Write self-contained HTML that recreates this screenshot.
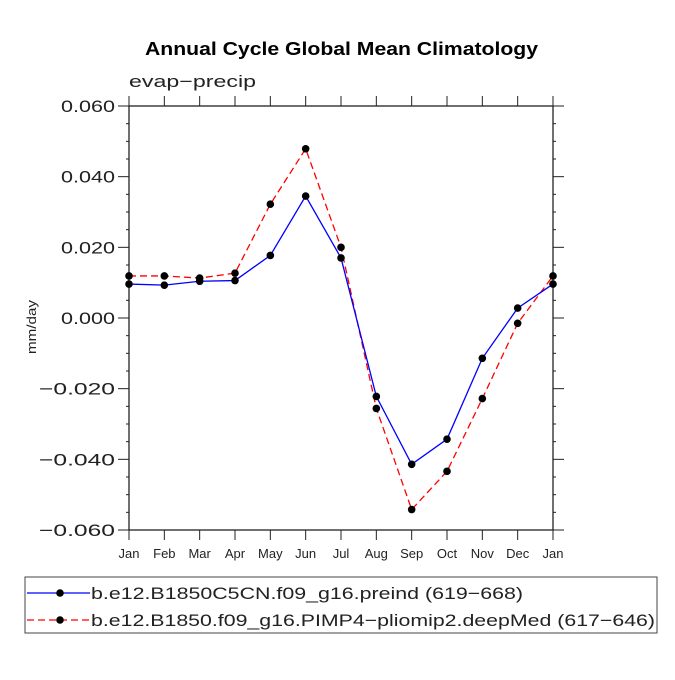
<!DOCTYPE html>
<html><head><meta charset="utf-8"><style>
body{margin:0;background:#fff;}
svg text{font-family:"Liberation Sans",sans-serif;}
</style></head><body>
<svg id="chart" width="675" height="675" xmlns="http://www.w3.org/2000/svg">
<text x="145" y="55" textLength="393" lengthAdjust="spacingAndGlyphs" font-size="18" font-weight="bold">Annual Cycle Global Mean Climatology</text>
<text x="129" y="87" textLength="127" lengthAdjust="spacingAndGlyphs" font-size="17" fill="#222">evap−precip</text>
<text transform="translate(36,327) rotate(-90)" text-anchor="middle" textLength="54" lengthAdjust="spacingAndGlyphs" font-size="13" fill="#222">mm/day</text>
<g id="axes"></g>
<g id="series"></g>
<rect x="25" y="577" width="632" height="56" fill="none" stroke="#444" stroke-width="1"/>
<g>
<line x1="27" y1="593" x2="90" y2="593" stroke="#00f" stroke-width="1.3"/>
<circle cx="60" cy="593" r="3.8" fill="#000"/>
<text x="91" y="599" textLength="432" lengthAdjust="spacingAndGlyphs" font-size="17" fill="#222">b.e12.B1850C5CN.f09_g16.preind (619−668)</text>
</g>
<g>
<line x1="27" y1="620" x2="90" y2="620" stroke="#f00" stroke-width="1.3" stroke-dasharray="7,4"/>
<circle cx="60" cy="620" r="3.8" fill="#000"/>
<text x="91" y="626" textLength="564" lengthAdjust="spacingAndGlyphs" font-size="17" fill="#222">b.e12.B1850.f09_g16.PIMP4−pliomip2.deepMed (617−646)</text>
</g>
</svg>
<script>
const months = ["Jan","Feb","Mar","Apr","May","Jun","Jul","Aug","Sep","Oct","Nov","Dec","Jan"];
const preind = [0.0096,0.0093,0.0104,0.0106,0.0177,0.0345,0.0170,-0.0222,-0.0414,-0.0343,-0.0114,0.0028,0.0096];
const pliomip = [0.0119,0.0119,0.0113,0.0127,0.0322,0.0479,0.0200,-0.0256,-0.0542,-0.0434,-0.0228,-0.0015,0.0119];
const yTicks = [0.06,0.04,0.02,0,-0.02,-0.04,-0.06];
const yTickLabels = ["0.060","0.040","0.020","0.000","−0.020","−0.040","−0.060"];
const L=129,R=553,T=106,B=530;
const NS="http://www.w3.org/2000/svg";
const xs=i=>L+(R-L)*i/(months.length-1);
const ys=v=>T+(0.06-v)/0.12*(B-T);
function mk(tag,attrs,parent){const e=document.createElementNS(NS,tag);for(const k in attrs)e.setAttribute(k,attrs[k]);parent.appendChild(e);return e;}
const ax=document.getElementById('axes');
const frame=mk('rect',{x:L,y:T,width:R-L,height:B-T,fill:'none',stroke:'#222','stroke-width':1.3},ax);


for(let v=-0.06;v<=0.0601;v+=0.005){
  const y=ys(v);const major=Math.abs(Math.round(v*1000)%20)<0.5;const len=major?11:3;
  mk('line',{x1:L-len,y1:y,x2:L,y2:y,stroke:'#222','stroke-width':1},ax);
  mk('line',{x1:R,y1:y,x2:R+len,y2:y,stroke:'#222','stroke-width':1},ax);
}
yTicks.forEach((v,i)=>{
  const lbl=yTickLabels[i];
  const t=mk('text',{x:L-14,y:ys(v)+6,'text-anchor':'end','font-size':17,fill:'#222',textLength:(lbl.length>5?76:54),lengthAdjust:'spacingAndGlyphs'},ax);
  t.textContent=lbl;
  
  
});
months.forEach((m,i)=>{
  const x=xs(i);
  mk('line',{x1:x,y1:B,x2:x,y2:B+10,stroke:'#222','stroke-width':1},ax);
  mk('line',{x1:x,y1:T-10,x2:x,y2:T,stroke:'#222','stroke-width':1},ax);
  const t=mk('text',{x:x,y:B+28,'text-anchor':'middle','font-size':13,fill:'#222'},ax);
  t.textContent=m;
  
  
});
const sg=document.getElementById('series');
function series(data,color,dash,name){
  const g=mk('g',{},sg);
  
  
  const pts=data.map((v,i)=>xs(i)+','+ys(v)).join(' ');
  const a={points:pts,fill:'none',stroke:color,'stroke-width':1.3};
  if(dash)a['stroke-dasharray']=dash;
  mk('polyline',a,g);
  data.forEach((v,i)=>{
    const c=mk('circle',{cx:xs(i),cy:ys(v),r:3.8,fill:'#000'},g);
    
    
  });
}
series(pliomip,'#f00','7,4','series-pliomip2');
series(preind,'#00f',null,'series-preind');
</script>
</body></html>
